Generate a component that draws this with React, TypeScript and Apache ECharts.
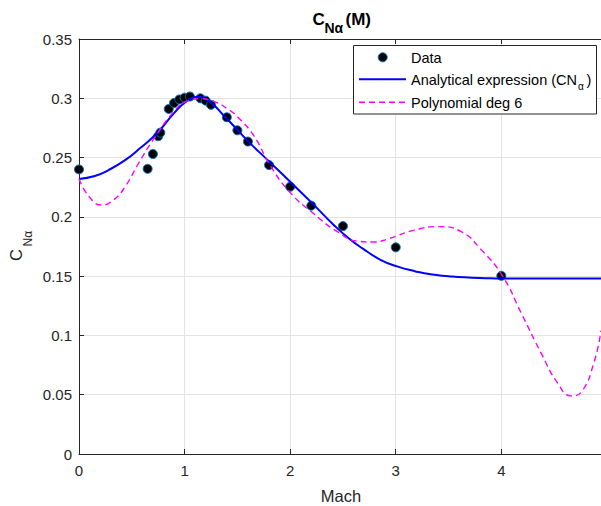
import React, { useEffect, useRef } from "react";
import * as echarts from "echarts";

// Measured data points (Mach, CNalpha)
const dataMach = [0, 0.65, 0.7, 0.75, 0.77, 0.85, 0.9, 0.95, 1.0, 1.05, 1.15, 1.2, 1.25, 1.4, 1.5, 1.6, 1.8, 2.0, 2.2, 2.5, 3.0, 4.0];
const dataCN = [0.24, 0.2405, 0.253, 0.268, 0.271, 0.291, 0.296, 0.299, 0.3005, 0.3015, 0.3, 0.298, 0.2945, 0.284, 0.273, 0.2635, 0.2437, 0.2254, 0.2094, 0.1922, 0.1743, 0.1503];

// Analytical expression curve
const analyticMach = [0, 0.15, 0.28, 0.44, 0.58, 0.74, 0.9, 1.02, 1.12, 1.24, 1.37, 1.5, 1.61, 1.78, 2.0, 2.21, 2.415, 2.56, 2.685, 2.86, 3.02, 3.18, 3.33, 3.5, 3.65, 3.85, 4.0, 4.5, 4.944];
const analyticCN = [0.232, 0.2345, 0.2395, 0.248, 0.258, 0.2707, 0.2875, 0.2975, 0.3012, 0.297, 0.2855, 0.2735, 0.263, 0.2485, 0.2296, 0.2114, 0.193, 0.1815, 0.1734, 0.1636, 0.158, 0.1542, 0.1515, 0.15, 0.149, 0.1483, 0.148, 0.148, 0.148];

// Polynomial deg 6 curve
const polyMach = [0, 0.1, 0.215, 0.33, 0.437, 0.563, 0.706, 0.896, 1.02, 1.15, 1.3, 1.4, 1.5, 1.655, 1.81, 2.0, 2.225, 2.447, 2.637, 2.795, 2.92, 3.175, 3.41, 3.62, 3.81, 4.01, 4.19, 4.38, 4.535, 4.66, 4.76, 4.88, 4.944];
const polyCN = [0.232, 0.2165, 0.21, 0.2145, 0.2255, 0.245, 0.2655, 0.2885, 0.2975, 0.2996, 0.2965, 0.2915, 0.2845, 0.2685, 0.2435, 0.2205, 0.2025, 0.1875, 0.1795, 0.1788, 0.1812, 0.1888, 0.1918, 0.1875, 0.1722, 0.1503, 0.1186, 0.0845, 0.0595, 0.049, 0.0525, 0.078, 0.104];

const xMin = 0;
const xMax = 4.944;
const xStep = 1;
const yMin = 0;
const yMax = 0.35;
const yStep = 0.05;

const FONT = "'Liberation Sans', Arial, Helvetica, sans-serif";
const INK = "#262626";
const GRID = "#e3e3e3";

export default function App() {
  const ref = useRef<HTMLDivElement>(null);

  useEffect(() => {
    if (!ref.current) return;
    const chart = echarts.init(ref.current, undefined, { renderer: "svg" });
    const zip = (xs: number[], ys: number[]) => xs.map((x, i) => [x, ys[i]]);

    const option: any = {
      animation: false,
      backgroundColor: "#ffffff",
      grid: { left: 79, right: 0, top: 39, bottom: 52, containLabel: false },
      xAxis: [
        {
          type: "value", min: xMin, max: xMax, interval: xStep,
          axisLine: { show: true, lineStyle: { color: INK, width: 1 } },
          axisTick: { show: true, inside: true, length: 5, lineStyle: { color: INK } },
          axisLabel: { show: true, color: INK, fontFamily: FONT, fontSize: 15, margin: 9, showMaxLabel: false },
          splitLine: { show: true, lineStyle: { color: GRID, width: 1 } },
        },
        {
          type: "value", position: "top", min: xMin, max: xMax, interval: xStep,
          axisLine: { show: true, onZero: false, lineStyle: { color: INK, width: 1 } },
          axisTick: { show: true, inside: true, length: 5, lineStyle: { color: INK } },
          axisLabel: { show: false },
          splitLine: { show: false },
        },
      ],
      yAxis: {
        type: "value", min: yMin, max: yMax, interval: yStep,
        axisLine: { show: true, lineStyle: { color: INK, width: 1 } },
        axisTick: { show: true, inside: true, length: 5, lineStyle: { color: INK } },
        axisLabel: { color: INK, fontFamily: FONT, fontSize: 15, margin: 7, formatter: (v: number) => String(parseFloat(v.toFixed(2))) },
        splitLine: { show: true, lineStyle: { color: GRID, width: 1 } },
      },
      series: [
        {
          name: "Data", type: "scatter", xAxisIndex: 0, data: zip(dataMach, dataCN), symbol: "circle", symbolSize: 9,
          itemStyle: { color: "#000000", borderColor: "#0072BD", borderWidth: 1, opacity: 1 }, z: 2,
        },
        {
          name: "Analytical expression", type: "line", xAxisIndex: 0, data: zip(analyticMach, analyticCN),
          showSymbol: false, symbol: "none", smooth: 0.5, lineStyle: { color: "#0000ff", width: 2 }, z: 3,
        },
        {
          name: "Polynomial deg 6", type: "line", xAxisIndex: 0, data: zip(polyMach, polyCN),
          showSymbol: false, symbol: "none", smooth: 0.5, lineStyle: { color: "#ff00ff", width: 1.4, type: [6, 4] }, z: 4,
        },
      ],
      graphic: [
        // Title C_Nα(M)
        { type: "text", x: 312.5, y: 19.5, style: { text: "C", fill: "#000", font: `bold 17px ${FONT}`, align: "left", verticalAlign: "middle" } },
        { type: "text", x: 324.5, y: 28, style: { text: "Nα", fill: "#000", font: `bold 14px ${FONT}`, align: "left", verticalAlign: "middle" } },
        { type: "text", x: 345.5, y: 19, style: { text: "(M)", fill: "#000", font: `bold 17px ${FONT}`, align: "left", verticalAlign: "middle" } },
        // X axis name
        { type: "text", x: 341, y: 496, style: { text: "Mach", fill: INK, font: `16.5px ${FONT}`, align: "center", verticalAlign: "middle" } },
        // Y axis name (rotated group, reads bottom to top)
        {
          type: "group", x: 7, y: 261, rotation: Math.PI / 2,
          children: [
            { type: "text", x: 0, y: 0, style: { text: "C", fill: INK, font: `16.5px ${FONT}` } },
            { type: "text", x: 14.5, y: 15, style: { text: "Nα", fill: INK, font: `12px ${FONT}` } },
          ],
        },
        // Legend
        { type: "rect", shape: { x: 353.5, y: 45.5, width: 243, height: 68.5 }, style: { fill: "#ffffff", stroke: INK, lineWidth: 1 }, z: 100 },
        { type: "circle", shape: { cx: 382.7, cy: 57.3, r: 4.5 }, style: { fill: "#000", stroke: "#0072BD", lineWidth: 1 }, z: 101 },
        { type: "line", shape: { x1: 359, y1: 79.3, x2: 406, y2: 79.3 }, style: { stroke: "#0000ff", lineWidth: 2 }, z: 101 },
        { type: "line", shape: { x1: 359, y1: 102.3, x2: 406, y2: 102.3 }, style: { stroke: "#ff00ff", lineWidth: 1.4, lineDash: [6, 4] }, z: 101 },
        { type: "text", x: 411, y: 57.5, style: { text: "Data", fill: "#000", font: `14.5px ${FONT}`, align: "left", verticalAlign: "middle" }, z: 101 },
        { type: "text", x: 411, y: 79.5, style: { text: "Analytical expression (CN", fill: "#000", font: `14.5px ${FONT}`, align: "left", verticalAlign: "middle" }, z: 101 },
        { type: "text", x: 578, y: 86.5, style: { text: "α", fill: "#000", font: `10px ${FONT}`, align: "left", verticalAlign: "middle" }, z: 101 },
        { type: "text", x: 586.5, y: 79.5, style: { text: ")", fill: "#000", font: `14.5px ${FONT}`, align: "left", verticalAlign: "middle" }, z: 101 },
        { type: "text", x: 411, y: 102.5, style: { text: "Polynomial deg 6", fill: "#000", font: `14.5px ${FONT}`, align: "left", verticalAlign: "middle" }, z: 101 },
      ],
    };

    chart.setOption(option);
    return () => chart.dispose();
  }, []);

  return <div ref={ref} style={{ position: "fixed", left: 0, top: 0, width: 601, height: 506, background: "#fff" }} />;
}
